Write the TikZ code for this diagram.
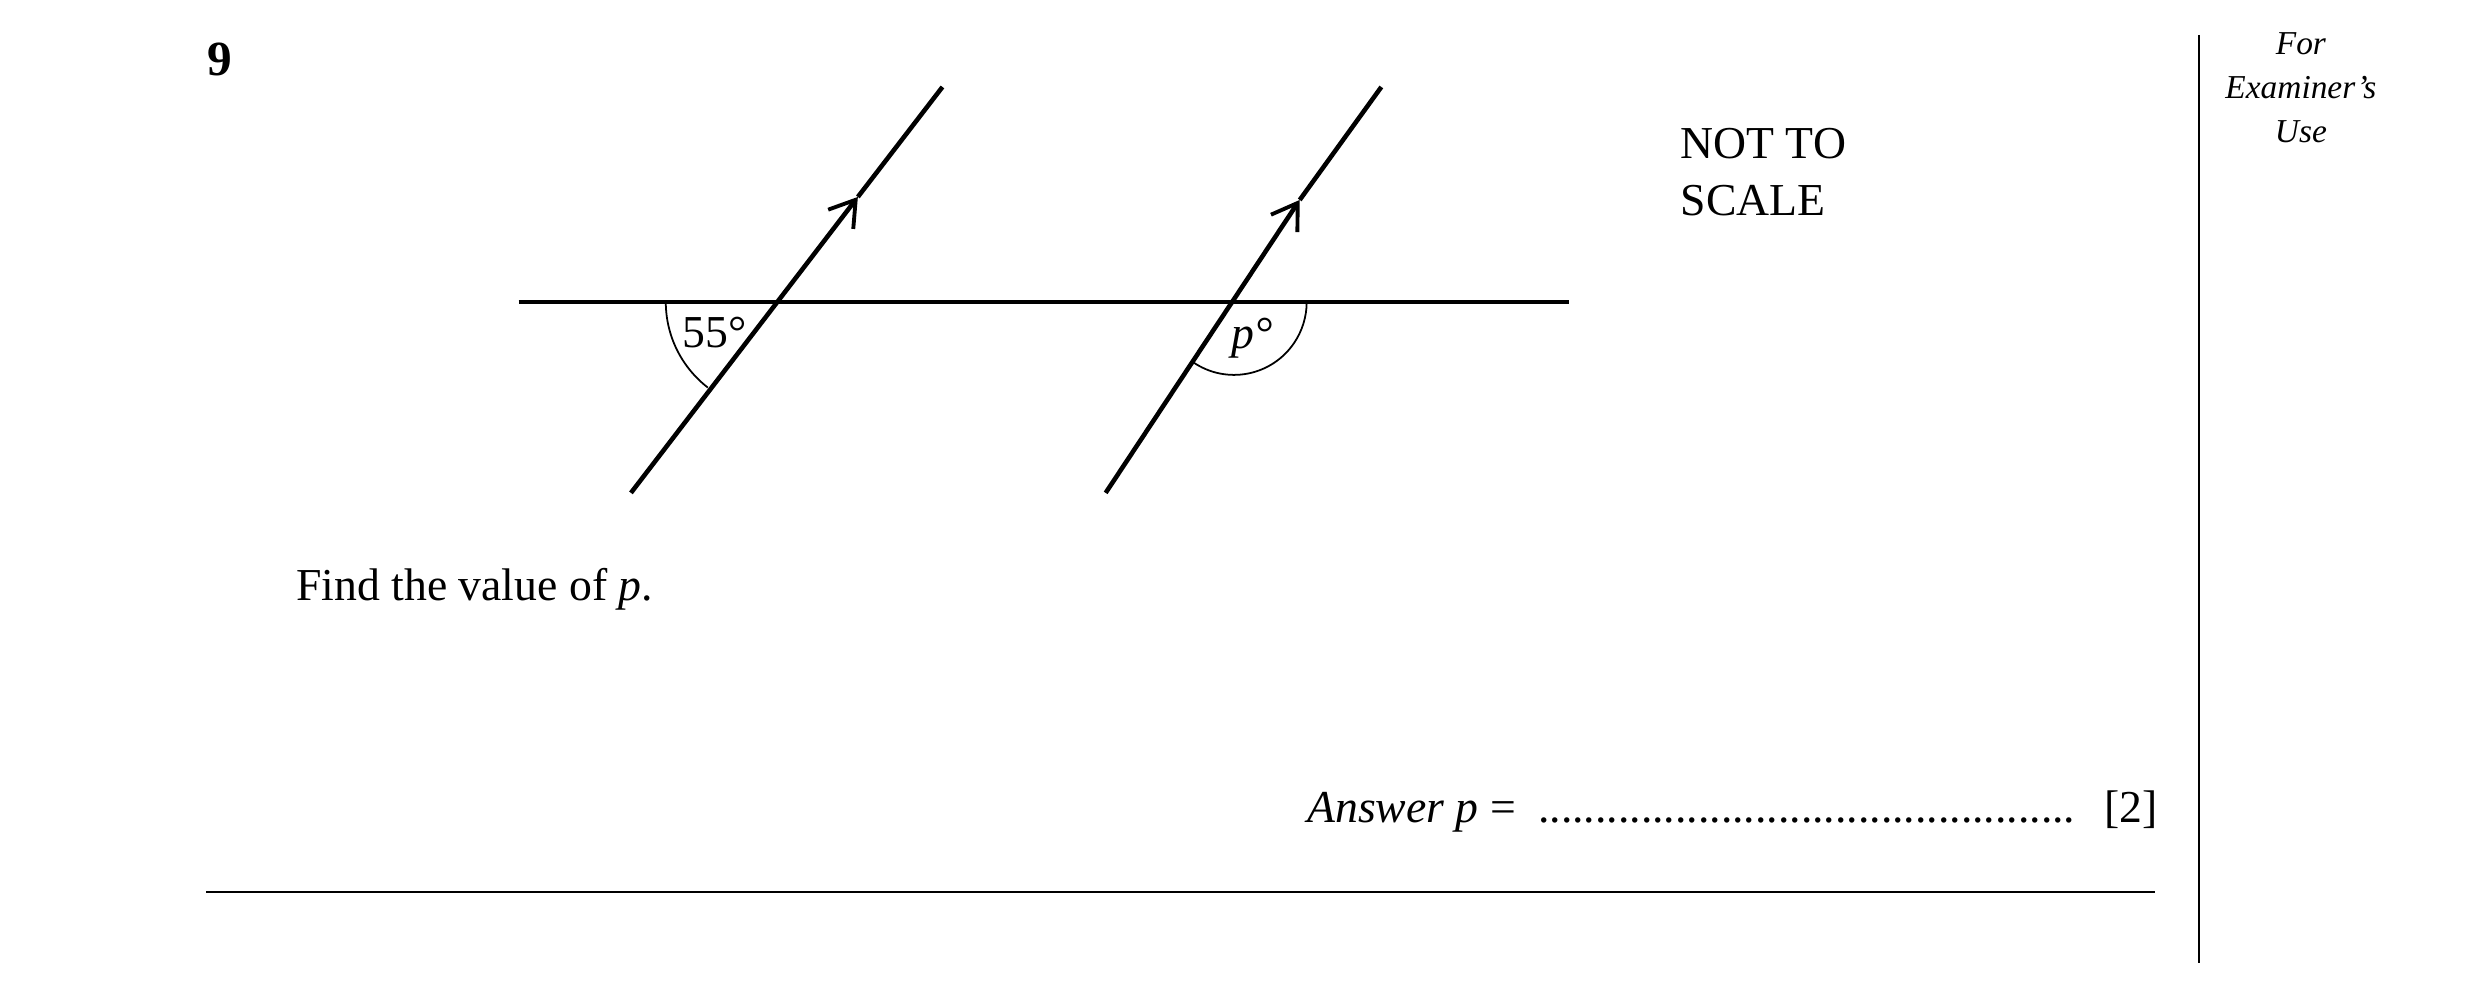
\documentclass[tikz,border=0pt]{standalone}
\usepackage{fontspec}
\setmainfont{Liberation Serif}
\usetikzlibrary{arrows.meta}
\begin{document}
\begin{tikzpicture}[x=0.00995cm,y=-0.01cm,
  geo/.style={line width=1.3pt},
  thin/.style={line width=0.5pt},
  tip/.style={-{Straight Barb[length=7pt,width=9pt,line width=1.1pt]}},
  txt/.style={font=\fontsize{13}{15}\selectfont,inner sep=0pt}]
\useasboundingbox (0,0) rectangle (2492,995);
\node[anchor=north west,inner sep=0pt,font=\fontsize{14}{16}\selectfont\bfseries] (q) at (208,42) {9};
\coordinate (hL) at (521,302); \coordinate (hR) at (1577,302);
\coordinate (aB) at (634,493); \coordinate (aT) at (947,87); \coordinate (aM) at (862,197);
\coordinate (bB) at (1111,493); \coordinate (bT) at (1388,87); \coordinate (bM) at (1306,200);
\coordinate (X1) at (777,302); \coordinate (X2) at (1240,302);
\draw[geo] (hL) -- (hR);
\draw[geo,tip] (aB) -- (aM); \draw[geo] (aM) -- (aT);
\draw[geo,tip] (bB) -- (bM); \draw[geo] (bM) -- (bT);
\draw[thin] (X1) ++(180:108) arc[start angle=180,end angle=127.5,radius=108];
\draw[thin] (X2) ++(124.3:73) arc[start angle=124.3,end angle=0,radius=73];
\node[txt] (a55) at (718,333) {55°};
\node[txt] (ap) at (1258,338) {\itshape p°};
\node[txt,anchor=north west,align=left] (nts) at (1688,128) {NOT TO\\[1pt]SCALE};
\node[txt,anchor=base west] (find) at (297,601) {Find the value of \textit{p}.};
\node[txt,anchor=base west] (ans) at (1313,823) {\textit{Answer p} =};
\node[txt,anchor=base west] (dots) at (1545,823) {...............................................};
\node[txt,anchor=base west] (mk) at (2114,823) {[2]};
\draw[line width=0.6pt] (207,892) -- (2165,892);
\draw[line width=0.6pt] (2210,35) -- (2210,963);
\node[inner sep=0pt,align=center,font=\fontsize{9.5}{12.5}\selectfont\itshape] (fe) at (2312,88) {For\\Examiner's\\Use};
\end{tikzpicture}
\end{document}
